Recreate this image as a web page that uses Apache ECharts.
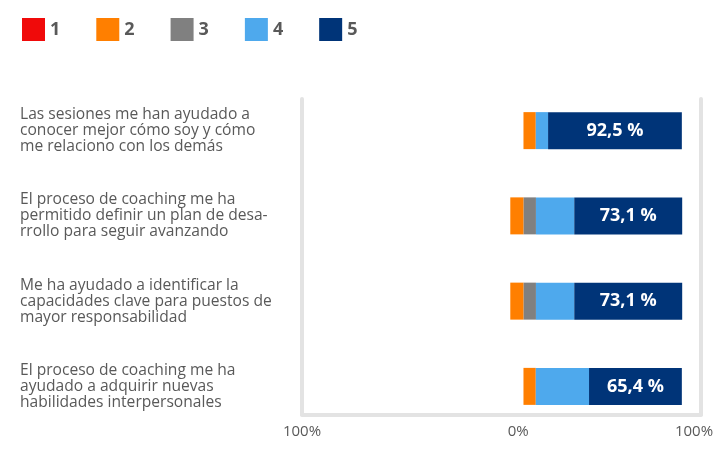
<!DOCTYPE html>
<html>
<head>
<meta charset="utf-8">
<script src="https://cdn.jsdelivr.net/npm/echarts@6/dist/echarts.min.js"></script>
<style>
  html, body { margin: 0; padding: 0; background: #fff; }
  #main { width: 720px; height: 456px; }
</style>
</head>
<body>
<div id="main"></div>
<script>
// categorias (de arriba a abajo)
var categories = [
    'Las sesiones me han ayudado a\nconocer mejor cómo soy y cómo\nme relaciono con los demás',
    'El proceso de coaching me ha\npermitido definir un plan de desa-\nrrollo para seguir avanzando',
    'Me ha ayudado a identificar la\ncapacidades clave para puestos de\nmayor responsabilidad',
    'El proceso de coaching me ha\nayudado a adquirir nuevas\nhabilidades interpersonales'
];

// longitudes (en unidades del eje)
var offset = [3.0, -4.5, -4.5, 3.0];
var val1 = [0, 0, 0, 0];
var val2 = [7.0, 7.6, 7.6, 7.0];
var val3 = [0, 7.0, 7.0, 0];
var val4 = [7.0, 21.8, 21.8, 30.3];
var val5 = [76.1, 61.4, 61.4, 52.8];

// etiquetas de la serie 5
var labels5 = ['92,5 %', '73,1 %', '73,1 %', '65,4 %'];

// eje x
var tickValues = [-123, 0, 100];
var tickLabels = ['100%', '0%', '100%'];
var xMin = -123, xMax = 104;

var colors = ['#f00a0a', '#ff7f00', '#808080', '#4ea9ed', '#003478'];
var font = '"Open Sans", sans-serif';

var dom = document.getElementById('main');
var myChart = echarts.init(dom);

function serie(name, data, color) {
    return {
        name: name,
        type: 'bar',
        stack: 'total',
        stackStrategy: 'all',
        xAxisIndex: 1,
        yAxisIndex: 2,
        barWidth: 37,
        itemStyle: { color: color },
        data: data
    };
}

var s5 = serie('5', val5, colors[4]);
s5.label = {
    show: true,
    position: 'inside',
    color: '#fff',
    fontFamily: font,
    fontWeight: 'bold',
    fontSize: 18,
    formatter: function (p) { return labels5[p.dataIndex]; }
};

var frameLine = { show: true, onZero: false, lineStyle: { color: '#e3e3e3', width: 4 } };

var option = {
    animation: false,
    legend: {
        left: 22,
        top: 18,
        padding: 0,
        itemWidth: 23,
        itemHeight: 23,
        itemGap: 36,
        icon: 'rect',
        data: ['1', '2', '3', '4', '5'],
        textStyle: { color: '#595959', fontFamily: font, fontSize: 18, fontWeight: 'bold' }
    },
    grid: [
        { left: 302, right: 19, top: 99, bottom: 41.5, outerBoundsMode: 'none' },
        { left: 302, right: 19, top: 88, bottom: 27, outerBoundsMode: 'none' }
    ],
    xAxis: [{
        type: 'value',
        gridIndex: 0,
        min: xMin,
        max: xMax,
        axisLine: frameLine,
        axisTick: { show: false },
        splitLine: { show: false },
        axisLabel: {
            customValues: tickValues,
            margin: 10,
            color: '#595959',
            fontFamily: font,
            fontSize: 15,
            formatter: function (v) { return tickLabels[tickValues.indexOf(v)]; }
        }
    }, {
        type: 'value',
        gridIndex: 1,
        min: xMin,
        max: xMax,
        show: false
    }],
    yAxis: [{
        type: 'value',
        gridIndex: 0,
        position: 'left',
        axisLine: frameLine,
        axisTick: { show: false },
        axisLabel: { show: false },
        splitLine: { show: false }
    }, {
        type: 'value',
        gridIndex: 0,
        position: 'right',
        axisLine: frameLine,
        axisTick: { show: false },
        axisLabel: { show: false },
        splitLine: { show: false }
    }, {
        type: 'category',
        gridIndex: 1,
        inverse: true,
        data: categories,
        axisLine: { show: false },
        axisTick: { show: false },
        axisLabel: {
            align: 'left',
            margin: 282,
            color: '#595959',
            fontFamily: font,
            fontSize: 15.6,
            lineHeight: 16
        }
    }],
    series: [
        {
            name: 'offset',
            type: 'bar',
            stack: 'total',
            stackStrategy: 'all',
            xAxisIndex: 1,
            yAxisIndex: 2,
            barWidth: 37,
            itemStyle: { color: 'rgba(0,0,0,0)' },
            emphasis: { disabled: true },
            data: offset
        },
        serie('1', val1, colors[0]),
        serie('2', val2, colors[1]),
        serie('3', val3, colors[2]),
        serie('4', val4, colors[3]),
        s5
    ]
};

myChart.setOption(option);
</script>
</body>
</html>
